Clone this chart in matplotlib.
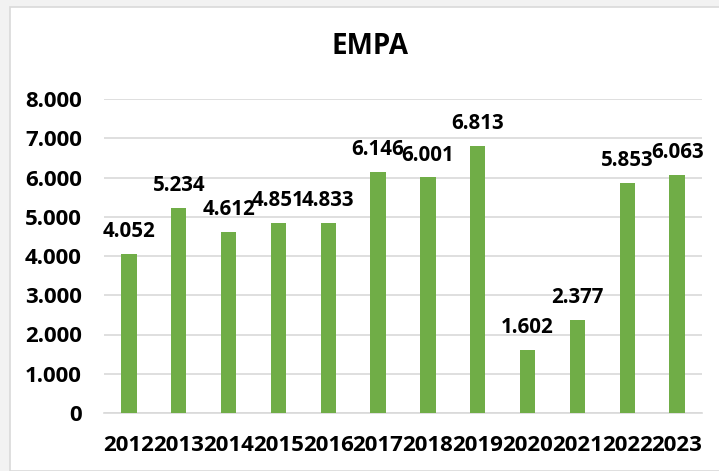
import matplotlib
matplotlib.use("Agg")
import matplotlib.pyplot as plt
from matplotlib.patches import Rectangle
from matplotlib.ticker import FuncFormatter

years = ["2012", "2013", "2014", "2015", "2016", "2017", "2018", "2019",
         "2020", "2021", "2022", "2023"]
values = [4052, 5234, 4612, 4851, 4833, 6146, 6001, 6813, 1602, 2377, 5853, 6063]
title = "EMPA"

def fmt(v):
    return f"{int(round(v)):,}".replace(",", ".")

plt.rcParams['font.family'] = ['Open Sans', 'DejaVu Sans']

W, H = 719, 471
fig = plt.figure(figsize=(W / 100, H / 100), dpi=100)
fig.patch.set_facecolor("#f2f2f2")
# white chart panel
fig.patches.append(Rectangle((10 / W, 0), 1.0, 1 - 7 / H, transform=fig.transFigure,
                             facecolor="white", edgecolor="#d9d9d9", linewidth=1.2,
                             zorder=-10))

ax = fig.add_axes([104 / W, 1 - 413 / H, (702 - 104) / W, (413 - 99) / H])
ax.set_facecolor("none")
x = range(len(years))
bars = ax.bar(x, values, width=0.31, color="#70AD47", zorder=3)
ax.set_xlim(-0.5, len(years) - 0.5)
ax.set_ylim(0, 8000)
ax.set_yticks(range(0, 8001, 1000))
ax.yaxis.set_major_formatter(FuncFormatter(lambda v, p: fmt(v)))
ax.set_xticks(list(x))
ax.set_xticklabels(years)
ax.grid(axis="y", color="#d9d9d9", linewidth=1.2, zorder=0)
for s in ["top", "right", "left"]:
    ax.spines[s].set_visible(False)
ax.spines["bottom"].set_color("#d9d9d9")
ax.spines["bottom"].set_linewidth(1.2)
ax.tick_params(length=0, labelsize=16)
ax.tick_params(axis="y", pad=16)
ax.tick_params(axis="x", pad=16)
for lab in ax.get_xticklabels() + ax.get_yticklabels():
    lab.set_fontweight("bold")

for xi, v in zip(x, values):
    ax.annotate(fmt(v), (xi, v), xytext=(0, 8.5), textcoords="offset points",
                ha="center", va="bottom", fontsize=14.8, fontweight="bold",
                color="#000000")

fig.text(370 / W, 1 - 47 / H, title, ha="center", va="center",
         fontsize=20, fontweight="bold")

fig.savefig("out.png", dpi=100, facecolor=fig.get_facecolor())
